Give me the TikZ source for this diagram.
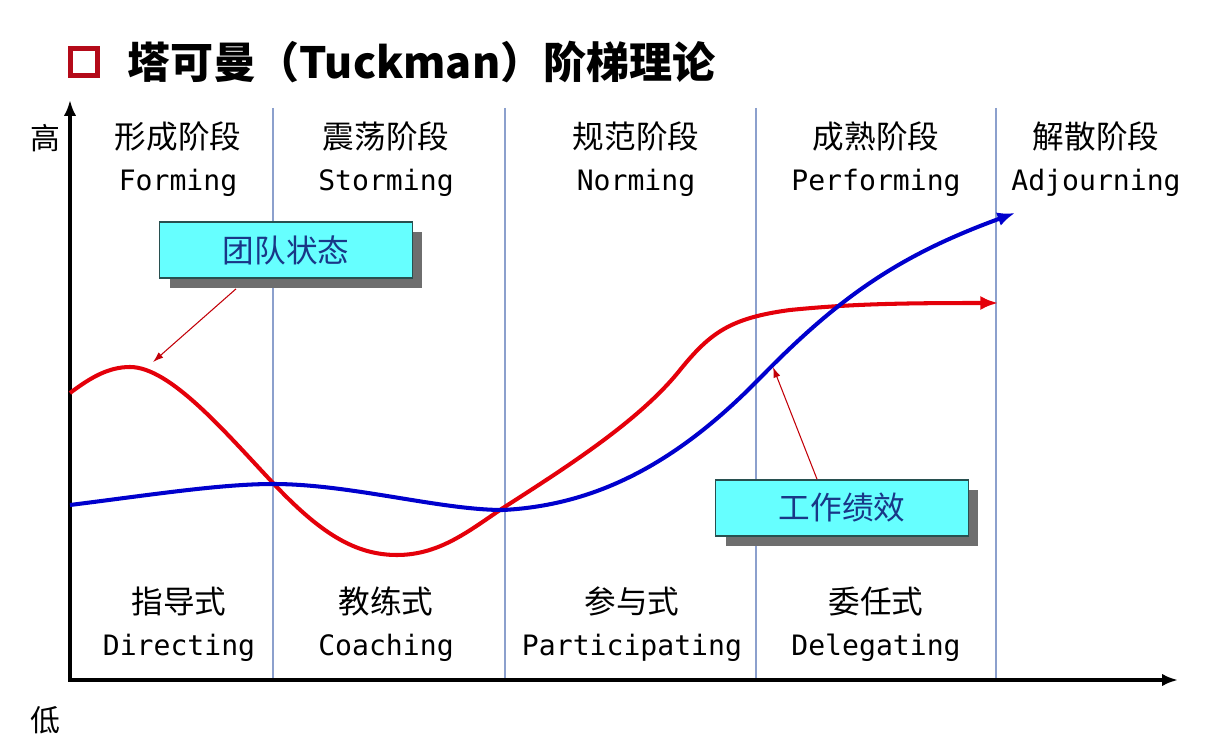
\documentclass[tikz,border=0pt]{standalone}
\usepackage{fontspec}
\setmainfont{Noto Sans CJK SC}
\newfontfamily\mono{DejaVu Sans Mono}
\usetikzlibrary{arrows.meta,shadows,calc}

\definecolor{titlered}{RGB}{180,10,25}
\definecolor{teamred}{RGB}{228,0,10}
\definecolor{workblue}{RGB}{0,0,205}
\definecolor{dividerblue}{RGB}{140,160,205}
\definecolor{calloutcyan}{RGB}{102,255,255}
\definecolor{calloutedge}{RGB}{40,80,80}
\definecolor{calloutink}{RGB}{25,55,135}
\definecolor{shadowgray}{RGB}{110,110,110}

\tikzset{
  stage/.style={align=center,font=\fontsize{18}{24}\selectfont},
  callout/.style={draw=calloutedge,line width=1pt,fill=calloutcyan,
    minimum width=5.06cm,minimum height=1.12cm,text=calloutink,
    font=\fontsize{18}{20}\selectfont,
    drop shadow={shadow xshift=0.2cm,shadow yshift=-0.2cm,fill=shadowgray,opacity=1}},
  divider/.style={draw=dividerblue,line width=0.8pt},
  curve/.style={line width=2.3pt,-{Latex[length=10pt,width=8pt]}},
  leader/.style={draw=teamred!85!black,line width=0.6pt,-{Latex[length=6pt,width=4pt]}},
}

\begin{document}
\begin{tikzpicture}[x=0.02cm,y=-0.02cm]
\useasboundingbox (0,0) rectangle (1210,756);

% title
\node (icon) [draw=titlered,line width=3pt,fill=white,minimum size=0.54cm] at (84,62) {};
\node (title) [anchor=west,font=\fontsize{24.5}{26}\selectfont\bfseries] at (121,62)
  {塔可曼（Tuckman）阶梯理论};

% stage dividers
\foreach \x in {273,505,756,996}
  \draw[divider] (\x,108) -- (\x,680);

% axes
\coordinate (origin) at (70,680);
\coordinate (ytop) at (70,100);
\coordinate (xend) at (1178,680);
\draw[line width=2.2pt,-{Latex[length=9pt,width=7pt]}] ([yshift=-1pt]origin) -- (ytop);
\draw[line width=2.2pt,-{Latex[length=9pt,width=7pt]}] ([xshift=-1pt]origin) -- (xend);
\node (high) [font=\fontsize{17}{20}\selectfont] at (45,138) {高};
\node (low) [font=\fontsize{17}{20}\selectfont] at (45,720) {低};

% stages
\node (forming) [stage] at (178,159) {形成阶段\\{\mono\fontsize{16}{24}\selectfont Forming}};
\node (storming) [stage] at (386,159) {震荡阶段\\{\mono\fontsize{16}{24}\selectfont Storming}};
\node (norming) [stage] at (636,159) {规范阶段\\{\mono\fontsize{16}{24}\selectfont Norming}};
\node (performing) [stage] at (876,159) {成熟阶段\\{\mono\fontsize{16}{24}\selectfont Performing}};
\node (adjourning) [stage] at (1096,159) {解散阶段\\{\mono\fontsize{16}{24}\selectfont Adjourning}};

% leadership styles
\node (directing) [stage] at (179,624) {指导式\\{\mono\fontsize{16}{24}\selectfont Directing}};
\node (coaching) [stage] at (386,624) {教练式\\{\mono\fontsize{16}{24}\selectfont Coaching}};
\node (participating) [stage] at (632,624) {参与式\\{\mono\fontsize{16}{24}\selectfont Participating}};
\node (delegating) [stage] at (876,624) {委任式\\{\mono\fontsize{16}{24}\selectfont Delegating}};

% team state (red) and performance (blue)
\draw[curve,teamred] (70,393) .. controls (90,378) and (108,367) .. (130,367)
  .. controls (170,367) and (225,432) .. (273,483)
  .. controls (320,533) and (355,555) .. (397,555)
  .. controls (440,555) and (470,530) .. (503,508)
  .. controls (570,465) and (640,420) .. (680,370)
  .. controls (710,333) and (730,318) .. (790,310)
  .. controls (850,304) and (900,303) .. (998,303);
\draw[curve,workblue] (70,505) .. controls (150,495) and (220,484) .. (273,484)
  .. controls (350,484) and (440,510) .. (503,510)
  .. controls (600,505) and (680,460) .. (760,378)
  .. controls (840,296) and (900,255) .. (1015,213);

% callouts
\node (state) [callout] at (286,250) {团队状态};
\node (perf) [callout] at (842,508) {工作绩效};
\coordinate (statetip) at (153,362);
\coordinate (perftip) at (773,367);
\draw[leader] ([xshift=-1.0cm,yshift=-0.2cm]state.south) -- (statetip);
\draw[leader] ([xshift=-0.5cm]perf.north) -- (perftip);
\end{tikzpicture}
\end{document}
